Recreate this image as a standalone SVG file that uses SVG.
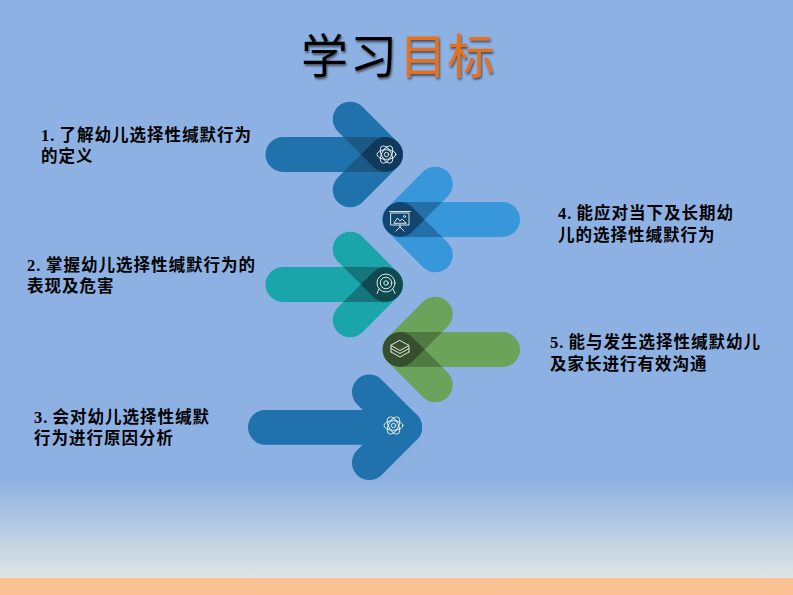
<svg xmlns="http://www.w3.org/2000/svg" width="793" height="595" viewBox="0 0 793 595">
<style>
.t{font-family:"Liberation Serif","Noto Sans CJK SC",serif;font-size:16.5px;font-weight:700;letter-spacing:1px;fill:#000}
.h{font-family:"Noto Sans CJK SC",sans-serif;font-size:47px;font-weight:400;filter:url(#sh)}
.i{fill:none;stroke:#f2f6f2;stroke-width:.9;stroke-linejoin:round;stroke-linecap:round}
.a{fill:var(--a)}.o{fill:var(--o)}.c{fill:var(--c)}
</style>
<defs>
<linearGradient id="bg" x1="0" y1="0" x2="0" y2="1"><stop offset="0" stop-color="#8db1e2"/><stop offset=".83" stop-color="#8db1e2"/><stop offset="1" stop-color="#dfe6e4"/></linearGradient>
<filter id="sh" x="-20%" y="-20%" width="140%" height="150%"><feDropShadow dx="1" dy="2" stdDeviation="1.2" flood-color="#000" flood-opacity=".55"/></filter>
<rect id="bar" x="-120" y="-17.4" width="137.4" height="34.8" rx="17.4"/>
<rect id="arm" x="-67.4" y="-17.4" width="84.8" height="34.8" rx="17.4"/>
<clipPath id="cBar"><use href="#bar"/></clipPath>
<clipPath id="cArmBar" clip-path="url(#cBar)"><use href="#arm" transform="rotate(45)"/></clipPath>
<g id="shape">
<use href="#bar" class="a"/>
<use href="#arm" class="a" transform="rotate(45)"/>
<use href="#arm" class="a" transform="rotate(-45)"/>
<g clip-path="url(#cBar)"><use href="#arm" class="o" transform="rotate(45)"/><use href="#arm" class="o" transform="rotate(-45)"/></g>
<g clip-path="url(#cArmBar)"><use href="#arm" class="c" transform="rotate(-45)"/></g>
</g>
<g id="atom" class="i"><ellipse rx="9.500" ry="4.800"/><ellipse rx="9.500" ry="4.800" transform="rotate(60)"/><ellipse rx="9.500" ry="4.800" transform="rotate(120)"/><circle r="2.200"/></g>
</defs>
<rect id="background" width="793" height="578" fill="url(#bg)"/>
<rect id="footer" y="578" width="793" height="17" fill="#fbc091"/>
<g id="title"><text class="h" x="301" y="73" fill="#000">学</text><text class="h" x="350" y="73" fill="#000">习</text><text class="h" x="399.500" y="73" fill="#e8701f">目</text><text class="h" x="447.500" y="73" fill="#e8701f">标</text></g>
<g id="connectors"/>
<g id="node1" style="--a:#1f72ab;--o:#1b5a85;--c:#0f3a5c"><use href="#shape" transform="translate(385.500 154.500)"/><use href="#atom" transform="translate(386.500 154.500)"/><text class="t" x="41" y="141">1.<tspan dx="4">了解幼儿选择性缄默行为</tspan></text><text class="t" x="41" y="162">的定义</text></g>
<g id="node4" style="--a:#3897db;--o:#2370a8;--c:#12456f"><use href="#shape" transform="translate(400 219.500) scale(-1 1)"/><g class="i" transform="translate(400 220)"><rect x="-9" y="-7" width="18" height="12"/><path d="M-10.500 -8.500H10.500M0 5V7M0 7L-4 11M0 7L4 11M-6 3L-2.500 -2L0 1L2 -1L6 3Z"/><circle cx="4.500" cy="-3.500" r="1"/></g><text class="t" x="558" y="219">4.<tspan dx="4">能应对当下及长期幼</tspan></text><text class="t" x="558" y="241">儿的选择性缄默行为</text></g>
<g id="node2" style="--a:#1aa5ab;--o:#15757a;--c:#0e4a50"><use href="#shape" transform="translate(385.500 284.500)"/><g class="i" transform="translate(386 283)"><circle r="9"/><circle r="5.800"/><circle r="2.200"/><path d="M-7 6L-9 10.500M7 6L9 10.500"/></g><text class="t" x="27" y="271">2.<tspan dx="4.500">掌握幼儿选择性缄默行为的</tspan></text><text class="t" x="27" y="292">表现及危害</text></g>
<g id="node5" style="--a:#6ca35b;--o:#4f7b43;--c:#36502f"><use href="#shape" transform="translate(400 349.500) scale(-1 1)"/><g class="i" transform="translate(400 349.500)"><path d="M0 -9L9 -4L0 1L-9 -4Z"/><path d="M-9 -1L0 4L9 -1M-9 -1L-9 -3.500M9 -1L9 -3.500"/><path d="M-9 2.500L0 7.500L9 2.500M-9 2.500L-9 0M9 2.500L9 0"/></g><text class="t" x="550" y="348">5.<tspan dx="4">能与发生选择性缄默幼儿</tspan></text><text class="t" x="550" y="370">及家长进行有效沟通</text></g>
<g id="node3" fill="#1f72ab"><rect x="248" y="409.900" width="174" height="34.800" rx="17.400"/><use href="#arm" transform="translate(404.700 427.300) rotate(45)"/><use href="#arm" transform="translate(404.700 427.300) rotate(-45)"/><use href="#atom" transform="translate(393.500 425.500)"/><text class="t" x="34" y="423">3.<tspan dx="4">会对幼儿选择性缄默</tspan></text><text class="t" x="34" y="444">行为进行原因分析</text></g>
</svg>
